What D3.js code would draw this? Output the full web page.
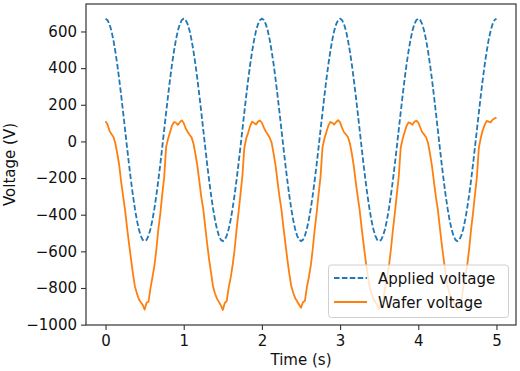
<!DOCTYPE html>
<html>
<head>
<meta charset="utf-8">
<script src="https://cdn.jsdelivr.net/npm/d3@7"></script>
<style>
html,body{margin:0;padding:0;background:#fff;}
svg{display:block;}
text{font-family:"DejaVu Sans",sans-serif;fill:#111;}
</style>
</head>
<body>
<svg id="chart" width="520" height="371"></svg>
<script>
// ---- data ----
const timeStep = 0.025;
const time = d3.range(0, 201).map(i => +(i * timeStep).toFixed(3));
const appliedVoltage = [
 670,662,640,604,554,492,420,339,251,158,63,-32,-125,-213,-294,-366,-428,-478,-514,-537,-544,-537,-514,-478,-428,-366,-294,-213,-125,-32,63,158,251,339,420,492,554,604,640,662,
 670,662,640,604,554,492,420,339,251,158,63,-32,-125,-213,-294,-366,-428,-478,-514,-537,-544,-537,-514,-478,-428,-366,-294,-213,-125,-32,63,158,251,339,420,492,554,604,640,662,
 670,662,640,604,554,492,420,339,251,158,63,-32,-125,-213,-294,-366,-428,-478,-514,-537,-544,-537,-514,-478,-428,-366,-294,-213,-125,-32,63,158,251,339,420,492,554,604,640,662,
 670,662,640,604,554,492,420,339,251,158,63,-32,-125,-213,-294,-366,-428,-478,-514,-537,-544,-537,-514,-478,-428,-366,-294,-213,-125,-32,63,158,251,339,420,492,554,604,640,662,
 670,662,640,604,554,492,420,339,251,158,63,-32,-125,-213,-294,-366,-428,-478,-514,-537,-544,-537,-514,-478,-428,-366,-294,-213,-125,-32,63,158,251,339,420,492,554,604,640,662,
 670
];
const waferVoltage = [
 110,92,58,40,25,-10,-66,-130,-222,-300,-375,-470,-557,-640,-720,-790,-828,-860,-878,-892,-918,-880,-875,-800,-741,-680,-590,-480,-395,-290,-195,-30,15,50,87,105,102,90,105,115,
 100,72,52,36,22,-12,-70,-135,-218,-305,-370,-466,-560,-645,-718,-792,-830,-858,-876,-895,-920,-882,-872,-798,-745,-676,-594,-484,-390,-292,-190,-35,18,48,85,108,100,93,108,114,
 102,75,54,38,20,-8,-68,-132,-220,-302,-372,-468,-555,-642,-722,-788,-826,-855,-872,-890,-908,-878,-870,-796,-744,-678,-588,-482,-392,-288,-192,-32,16,52,86,106,101,92,106,116,
 104,74,50,38,24,-10,-66,-134,-221,-300,-374,-470,-558,-644,-720,-790,-828,-858,-876,-893,-915,-880,-874,-800,-742,-680,-590,-485,-393,-290,-194,-36,14,50,84,104,100,91,107,113,
 103,76,51,37,23,-9,-67,-133,-219,-303,-371,-467,-559,-643,-721,-791,-829,-859,-877,-894,-917,-881,-873,-799,-743,-679,-591,-483,-391,-291,-193,-34,20,62,90,112,108,104,118,125,
 130
];
const xTicks = [0,1,2,3,4,5];
const yTicks = [-1000,-800,-600,-400,-200,0,200,400,600];
const seriesNames = ["Applied voltage","Wafer voltage"];

// ---- layout ----
const svg = d3.select("#chart");
const L = 86, R = 516, T = 4, B = 325;
const x = d3.scaleLinear().domain([-0.25, 5.25]).range([L, R]);
const y = d3.scaleLinear().domain([-1002, 750]).range([B, T]);
const fs = 15;

const line = vals => d3.line().x((d,i)=>x(time[i])).y(d=>y(d))(vals);

svg.append("clipPath").attr("id","clip").append("rect")
  .attr("x",L).attr("y",T).attr("width",R-L).attr("height",B-T);

const g = svg.append("g").attr("clip-path","url(#clip)");
g.append("path").attr("d", line(appliedVoltage))
  .attr("fill","none").attr("stroke","#1f77b4").attr("stroke-width",1.8)
  .attr("stroke-dasharray","5.5,2.4");
g.append("path").attr("d", line(waferVoltage))
  .attr("fill","none").attr("stroke","#ff7f0e").attr("stroke-width",1.8)
  .attr("stroke-linejoin","round");

// axes
const xAxis = svg.append("g").attr("transform",`translate(0,${B})`)
  .call(d3.axisBottom(x).tickValues(xTicks).tickSize(5).tickPadding(5).tickFormat(d3.format("d")));
const yAxis = svg.append("g").attr("transform",`translate(${L},0)`)
  .call(d3.axisLeft(y).tickValues(yTicks).tickSize(5).tickPadding(4)
    .tickFormat(d => d < 0 ? "\u2212" + Math.abs(d) : String(d)));
[xAxis, yAxis].forEach(a => {
  a.select(".domain").remove();
  a.selectAll("line").attr("stroke","#333").attr("stroke-width",1.1);
  a.selectAll("text").attr("font-size",fs).attr("font-family","DejaVu Sans, sans-serif").attr("fill","#111");
});

// frame
svg.append("rect").attr("x",L).attr("y",T).attr("width",R-L).attr("height",B-T)
  .attr("fill","none").attr("stroke","#333").attr("stroke-width",1.2);

// labels
svg.append("text").attr("x",(L+R)/2).attr("y",365).attr("text-anchor","middle")
  .attr("font-size",fs).text("Time (s)");
svg.append("text").attr("transform",`translate(15,${(T+B)/2}) rotate(-90)`)
  .attr("text-anchor","middle").attr("font-size",fs).text("Voltage (V)");

// legend
const lg = svg.append("g");
lg.append("rect").attr("x",328.5).attr("y",265).attr("width",180).attr("height",52.5)
  .attr("rx",3).attr("fill","#fff").attr("fill-opacity",0.8)
  .attr("stroke","#d0d0d0").attr("stroke-width",1);
const colors = ["#1f77b4","#ff7f0e"];
seriesNames.forEach((name,i) => {
  const yy = 278 + i*24;
  lg.append("line").attr("x1",334).attr("x2",367).attr("y1",yy).attr("y2",yy)
    .attr("stroke",colors[i]).attr("stroke-width",1.8)
    .attr("stroke-dasharray", i===0 ? "5.5,2.4" : null);
  lg.append("text").attr("x",378).attr("y",yy+5.5).attr("font-size",fs).text(name);
});
</script>
</body>
</html>
